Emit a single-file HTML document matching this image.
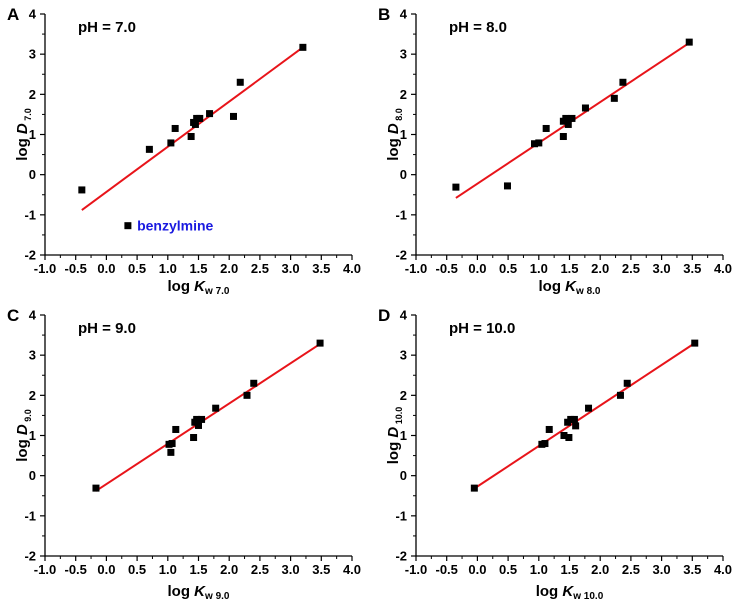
<!DOCTYPE html>
<html><head><meta charset="utf-8"><style>
body{margin:0;background:#fff;width:737px;height:606px;overflow:hidden}
svg{font-family:"Liberation Sans",Arial,sans-serif;font-weight:bold}
</style></head><body>
<svg id="fig" width="737" height="606"></svg>
<script>
const xTicks=[-1.0,-0.5,0.0,0.5,1.0,1.5,2.0,2.5,3.0,3.5,4.0];
const yTicks=[-2,-1,0,1,2,3,4];
const phLabels=["7.0","8.0","9.0","10.0"];
const panelLetters=["A","B","C","D"];
const aX=[-0.4,0.7,1.05,1.12,1.38,1.42,1.45,1.47,1.52,1.68,2.07,2.18,3.2,0.35];
const aY=[-0.38,0.63,0.79,1.15,0.95,1.3,1.25,1.4,1.4,1.52,1.45,2.3,3.17,-1.27];
const aLine=[[-0.4,-0.88],[3.2,3.17]];
const bX=[-0.35,0.49,0.93,1.0,1.12,1.4,1.4,1.44,1.48,1.54,1.76,2.23,2.37,3.45];
const bY=[-0.31,-0.28,0.77,0.79,1.15,0.95,1.33,1.4,1.25,1.4,1.66,1.9,2.3,3.3];
const bLine=[[-0.35,-0.58],[3.45,3.28]];
const cX=[-0.17,1.02,1.07,1.05,1.13,1.42,1.44,1.47,1.5,1.55,1.78,2.29,2.4,3.48];
const cY=[-0.31,0.78,0.8,0.58,1.15,0.95,1.33,1.4,1.25,1.4,1.68,2.0,2.3,3.3];
const cLine=[[-0.17,-0.38],[3.48,3.28]];
const dX=[-0.05,1.05,1.1,1.17,1.41,1.47,1.49,1.52,1.58,1.6,1.81,2.33,2.44,3.54];
const dY=[-0.31,0.78,0.8,1.15,1.0,1.33,0.95,1.4,1.4,1.24,1.68,2.0,2.3,3.3];
const dLine=[[-0.05,-0.32],[3.54,3.3]];
const series=[[aX,aY,aLine],[bX,bY,bLine],[cX,cY,cLine],[dX,dY,dLine]];
const NS="http://www.w3.org/2000/svg";
const svg=document.getElementById('fig');
function mk(t,a,p){const e=document.createElementNS(NS,t);for(const k in a)e.setAttribute(k,a[k]);(p||svg).appendChild(e);return e;}
const origins=[[45,14],[416,14],[45,315],[416,315]];
series.forEach((s,i)=>{
  const [ox,oy]=origins[i];
  const W=307,H=241;
  const g=mk('g',{});
  
  
  const sx=v=>ox+(v+1)/5*W, sy=v=>oy+H-(v+2)/6*H;
  const ax=mk('path',{d:`M${ox},${oy} V${oy+H} H${ox+W}`,stroke:'#000','stroke-width':1.3,fill:'none'},g);
  
  
  xTicks.forEach((t,j)=>{
    const x=sx(t);
    mk('line',{x1:x,x2:x,y1:oy+H,y2:oy+H+5,stroke:'#000','stroke-width':1.2},g);
    if(j<xTicks.length-1)mk('line',{x1:sx(t+0.25),x2:sx(t+0.25),y1:oy+H,y2:oy+H+3,stroke:'#000'},g);
    const tx=mk('text',{x:x,y:oy+H+18,'text-anchor':'middle','font-size':13},g);tx.textContent=t.toFixed(1);
    
    
  });
  yTicks.forEach((t,j)=>{
    const y=sy(t);
    mk('line',{x1:ox-5,x2:ox,y1:y,y2:y,stroke:'#000','stroke-width':1.2},g);
    if(j<yTicks.length-1)mk('line',{x1:ox-3,x2:ox,y1:sy(t+0.5),y2:sy(t+0.5),stroke:'#000'},g);
    const ty=mk('text',{x:ox-9,y:y+4.5,'text-anchor':'end','font-size':13},g);ty.textContent=t;
    
    
  });
  const L=mk('text',{x:ox-38,y:oy+6,'font-size':17},g);L.textContent=panelLetters[i];
  
  
  const ph=mk('text',{x:ox+33,y:oy+18,'font-size':15},g);ph.textContent='pH = '+phLabels[i];
  
  
  const xl=mk('text',{x:ox+W/2,y:oy+H+(i<2?36:40),'text-anchor':'middle','font-size':15},g);
  xl.innerHTML='log <tspan font-style="italic">K</tspan><tspan font-size="10" dy="3">w '+phLabels[i]+'</tspan>';
  
  
  const yl=mk('text',{transform:`translate(${ox-18},${oy+H/2}) rotate(-90)`,'text-anchor':'middle','font-size':15},g);
  yl.innerHTML='log <tspan font-style="italic">D</tspan><tspan font-size="9" dy="4"> '+phLabels[i]+'</tspan>';
  
  
  const ln=mk('line',{x1:sx(s[2][0][0]),y1:sy(s[2][0][1]),x2:sx(s[2][1][0]),y2:sy(s[2][1][1]),stroke:'#e8141a','stroke-width':2},g);
  
  
  s[0].forEach((v,k)=>{
    const r=mk('rect',{x:sx(v)-3.5,y:sy(s[1][k])-3.5,width:7,height:7,fill:'#000'},g);
    
    
  });
  if(i===0){
    const b=mk('text',{x:sx(0.5),y:sy(-1.27)+5,'font-size':14,fill:'#1a1ae0'},g);b.textContent='benzylmine';
    
    
  }
});
</script>
</body></html>
